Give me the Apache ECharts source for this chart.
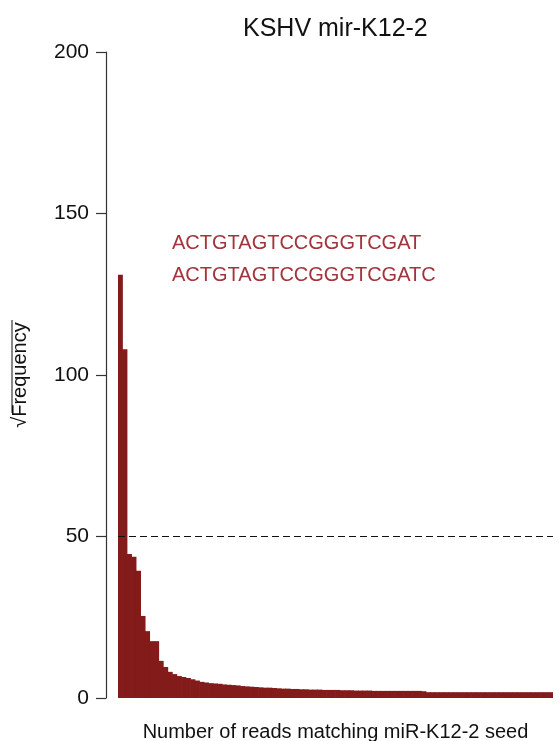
<!DOCTYPE html>
<html>
<head>
<meta charset="utf-8">
<script src="https://cdn.jsdelivr.net/npm/echarts@6/dist/echarts.min.js"></script>
<style>html,body{margin:0;padding:0;background:#fff}#c{width:560px;height:741px}</style>
</head>
<body>
<div id="c"></div>
<script>
var titleText = 'KSHV mir-K12-2';
var xAxisName = 'Number of reads matching miR-K12-2 seed';
var yAxisName = '\u221AFrequency';
var seqLabels = ['ACTGTAGTCCGGGTCGAT', 'ACTGTAGTCCGGGTCGATC'];
var yTicks = [0, 50, 100, 150, 200];
var thresholdValue = 50;
var sqrtFreq = [
  131, 108, 44.6, 43.7, 39.4, 25.4, 20.7, 17.6, 17.6, 11.5,
  9.6, 8.1, 7.4, 6.8, 6.5, 6.2, 5.8, 5.4, 5.0, 4.8,
  4.6, 4.5, 4.4, 4.2, 4.1, 4.0, 3.9, 3.7, 3.6, 3.5,
  3.4, 3.3, 3.2, 3.2, 3.1, 3.0, 2.9, 2.9, 2.8, 2.8,
  2.7, 2.7, 2.6, 2.6, 2.6, 2.5, 2.5, 2.5, 2.5, 2.4,
  2.4, 2.4, 2.3, 2.3, 2.3, 2.3, 2.2, 2.2, 2.2, 2.2,
  2.2, 2.2, 2.2, 2.2, 2.2, 2.2, 2.2, 2.1, 1.8, 1.8,
  1.8, 1.8, 1.8, 1.8, 1.8, 1.8, 1.8, 1.8, 1.8, 1.8,
  1.8, 1.8, 1.8, 1.8, 1.8, 1.8, 1.8, 1.8, 1.8, 1.8,
  1.8, 1.8, 1.8, 1.8, 1.8, 1.8
];
var categories = sqrtFreq.map(function (v, i) { return String(i + 1); });

var FONT = '"Liberation Sans", Arial, Helvetica, sans-serif';
var chart = echarts.init(document.getElementById('c'), null, {renderer: 'canvas'});
chart.setOption({
  backgroundColor: '#ffffff',
  animation: false,
  title: {
    text: titleText,
    left: 238, top: 12,
    textStyle: {fontFamily: FONT, fontSize: 25, fontWeight: 'normal', color: '#111'}
  },
  grid: {left: 118, right: 7, top: 52, bottom: 43, outerBoundsMode: 'none', containLabel: false},
  xAxis: {
    type: 'category',
    data: categories,
    boundaryGap: true,
    name: xAxisName,
    nameLocation: 'middle',
    nameGap: 24,
    nameTextStyle: {fontFamily: FONT, fontSize: 20, color: '#111'},
    axisLine: {show: false},
    axisTick: {show: false},
    axisLabel: {show: false},
    splitLine: {show: false}
  },
  yAxis: {
    type: 'value',
    min: yTicks[0], max: yTicks[yTicks.length - 1], interval: 50,
    offset: 12,
    name: yAxisName,
    nameLocation: 'middle',
    nameGap: 76,
    nameTextStyle: {fontFamily: FONT, fontSize: 20, color: '#111'},
    axisLine: {show: true, lineStyle: {color: '#333', width: 1.2}},
    axisTick: {show: true, length: 10, lineStyle: {color: '#333', width: 1.2}},
    axisLabel: {fontFamily: FONT, fontSize: 21, color: '#111', margin: 17},
    splitLine: {show: false}
  },
  series: [{
    type: 'bar',
    data: sqrtFreq,
    barWidth: '115%',
    barGap: '-100%',
    itemStyle: {color: '#831b1b', borderWidth: 0},
    markLine: {
      silent: true,
      symbol: 'none',
      label: {show: false},
      lineStyle: {type: [7, 4], color: '#111', width: 1.2},
      data: [{yAxis: thresholdValue}]
    }
  }],
  graphic: [
    {type: 'text', left: 172, top: 233, style: {text: seqLabels[0], font: '20px ' + FONT, fill: '#a3343b'}},
    {type: 'text', left: 172, top: 265, style: {text: seqLabels[1], font: '20px ' + FONT, fill: '#a3343b'}},
    {type: 'line', shape: {x1: 12, y1: 320, x2: 12, y2: 413}, style: {stroke: '#111', lineWidth: 1}}
  ]
});
</script>
</body>
</html>
